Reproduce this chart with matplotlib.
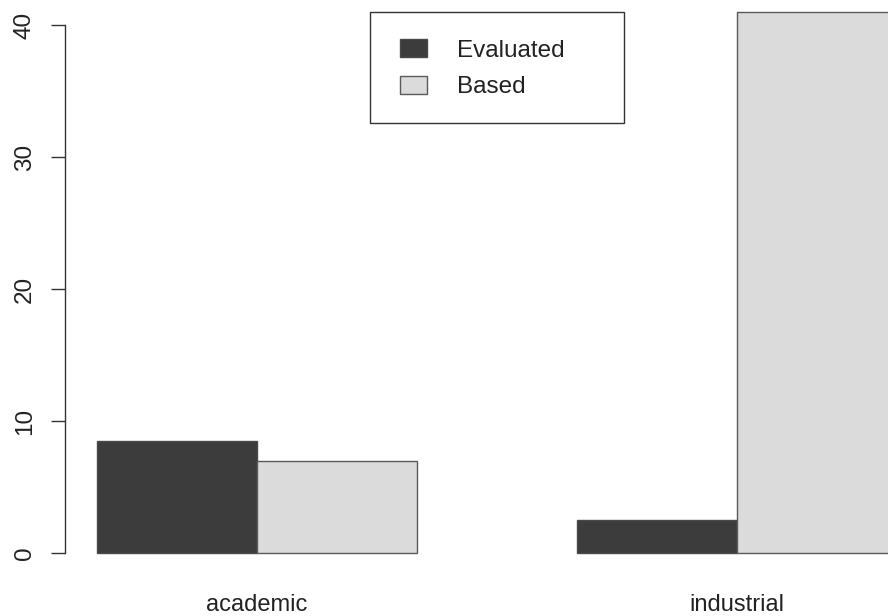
import numpy as np
import matplotlib
matplotlib.use("Agg")
import matplotlib.pyplot as plt
from matplotlib.patches import Rectangle

plt.rcParams['font.family'] = ['Liberation Sans', 'DejaVu Sans']

# data
groups = ['academic', 'industrial']
series = ['Evaluated', 'Based']
evaluated = [8.5, 2.5]
based = [7, 41]
colors = ['#3c3c3c', '#dbdbdb']
yticks = [0, 10, 20, 30, 40]

fig = plt.figure(figsize=(8.88, 6.16), dpi=100)
# R style plot region, it runs off the right/top of the picture
ax = fig.add_axes([65 / 888, 0.0672, 864 / 888, 0.9487])

# R barplot(beside=TRUE): bars width 1, one unit gap between groups
left = np.array([1.0, 4.0])
ax.bar(left, evaluated, width=1, align='edge', color=colors[0],
       edgecolor='#4a4a4a', linewidth=1.0, label=series[0])
ax.bar(left + 1, based, width=1, align='edge', color=colors[1],
       edgecolor='#5a5a5a', linewidth=1.0, label=series[1])

ax.set_xlim(0.8, 6.2)
ax.set_ylim(-1.64, 42.64)

for s in ['top', 'right', 'bottom']:
    ax.spines[s].set_visible(False)
ax.spines['left'].set_bounds(0, 40)
ax.spines['left'].set_color('#333333')
ax.spines['left'].set_linewidth(1.0)

ax.set_yticks(yticks)
ax.set_yticklabels([str(t) for t in yticks], rotation=90, va='center',
                   fontsize=17.5, color='#222222')
ax.tick_params(axis='y', length=10, width=1.0, color='#333333', pad=11)

ax.set_xticks(left + 1)
ax.set_xticklabels(groups, fontsize=17, color='#222222')
ax.tick_params(axis='x', length=0, pad=14)

# legend with an R-like box
leg = fig.legend(loc='upper left', bbox_to_anchor=(400 / 888, 1 - 39 / 616),
                 frameon=False, fontsize=17.5, borderpad=0, borderaxespad=0,
                 handlelength=1.1, handleheight=0.78, handletextpad=1.25,
                 labelspacing=0.58)
for t in leg.get_texts():
    t.set_color('#222222')
fig.patches.append(Rectangle((370 / 888, 1 - 123 / 616), 254 / 888, 111 / 616,
                             transform=fig.transFigure, fill=False,
                             edgecolor='#333333', linewidth=1.0))

fig.savefig('out.png', dpi=100)
